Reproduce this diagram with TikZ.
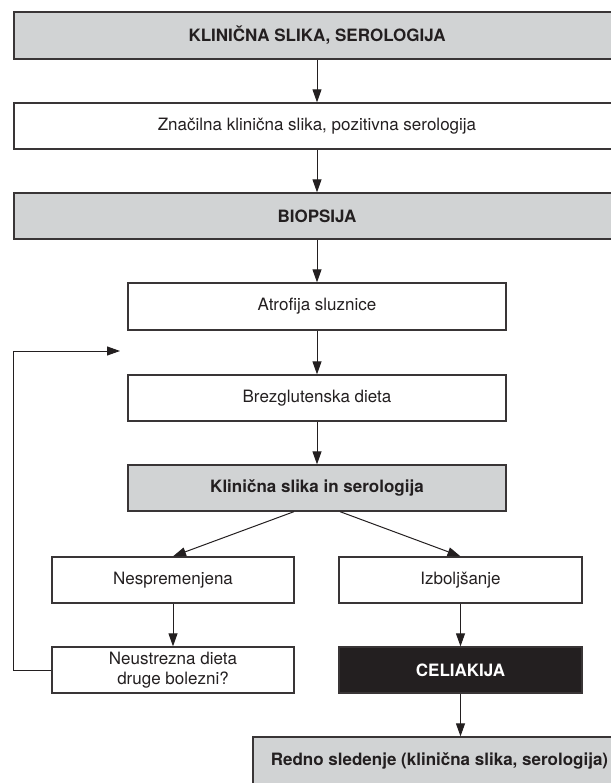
\documentclass[tikz,border=0pt]{standalone}
\usepackage{fontspec}
\setmainfont{TeX Gyre Heros}
\usepackage{xcolor}
\usetikzlibrary{arrows.meta,positioning}
\definecolor{boxgray}{HTML}{D1D3D4}
\definecolor{inkblack}{HTML}{231F20}

\begin{document}
\begin{tikzpicture}[x=1pt,y=-1pt,
  font=\fontsize{17}{19.5}\selectfont,
  box/.style={draw=inkblack!90,line width=1.3pt,minimum height=46pt,inner sep=0pt,text=inkblack,align=center},
  graybox/.style={box,fill=boxgray,font=\fontsize{17}{19.5}\selectfont\bfseries},
  darkbox/.style={box,fill=inkblack,text=white,font=\fontsize{17}{19.5}\selectfont\bfseries},
  arr/.style={line width=1pt,draw=inkblack,-{Triangle[length=13pt,width=9pt]}}]
  \useasboundingbox (0,0) rectangle (610,783);
  % top: full-width rows
  \node[graybox,minimum width=606pt,minimum height=47pt] (klin) at (317,35.5) {KLINIČNA SLIKA, SEROLOGIJA};
  \node[box,minimum width=606pt] (znac) at (317,126) {Značilna klinična slika, pozitivna serologija};
  \node[graybox,minimum width=606pt] (biop) at (317,216) {BIOPSIJA};
  % middle column
  \node[box,minimum width=378pt,minimum height=47pt] (atro) at (317,306.5) {Atrofija sluznice};
  \node[box,minimum width=378pt] (dieta) at (317,398) {Brezglutenska dieta};
  \node[graybox,minimum width=378pt] (kss) at (317,488) {Klinična slika in serologija};
  % two branches
  \node[box,minimum width=242pt] (nesp) at (173,580) {Nespremenjena};
  \node[box,minimum width=243pt] (izbo) at (460.5,580) {Izboljšanje};
  \node[box,minimum width=242pt] (neus) at (173,670) {Neustrezna dieta\\druge bolezni?};
  \node[darkbox,minimum width=243pt] (celi) at (460.5,670) {CELIAKIJA};
  \node[graybox,minimum width=373pt,minimum height=48pt] (redno) at (439.5,761) {Redno sledenje (klinična slika, serologija)};
  \coordinate (back) at (120,351);
  % arrows
  \draw[arr] (klin) -- (znac);
  \draw[arr] (znac) -- (biop);
  \draw[arr] (biop) -- (atro);
  \draw[arr] (atro) -- (dieta);
  \draw[arr] (dieta) -- (kss);
  \draw[arr] ([xshift=-23pt]kss.south) -- (nesp.north);
  \draw[arr] ([xshift=23pt]kss.south) -- (izbo.north);
  \draw[arr] (nesp) -- (neus);
  \draw[arr] (izbo) -- (celi);
  \draw[arr] (celi.south) -- (celi.south |- redno.north);
  \draw[arr] (neus.west) -- ++(-38,0) |- (back);
\end{tikzpicture}
\end{document}
